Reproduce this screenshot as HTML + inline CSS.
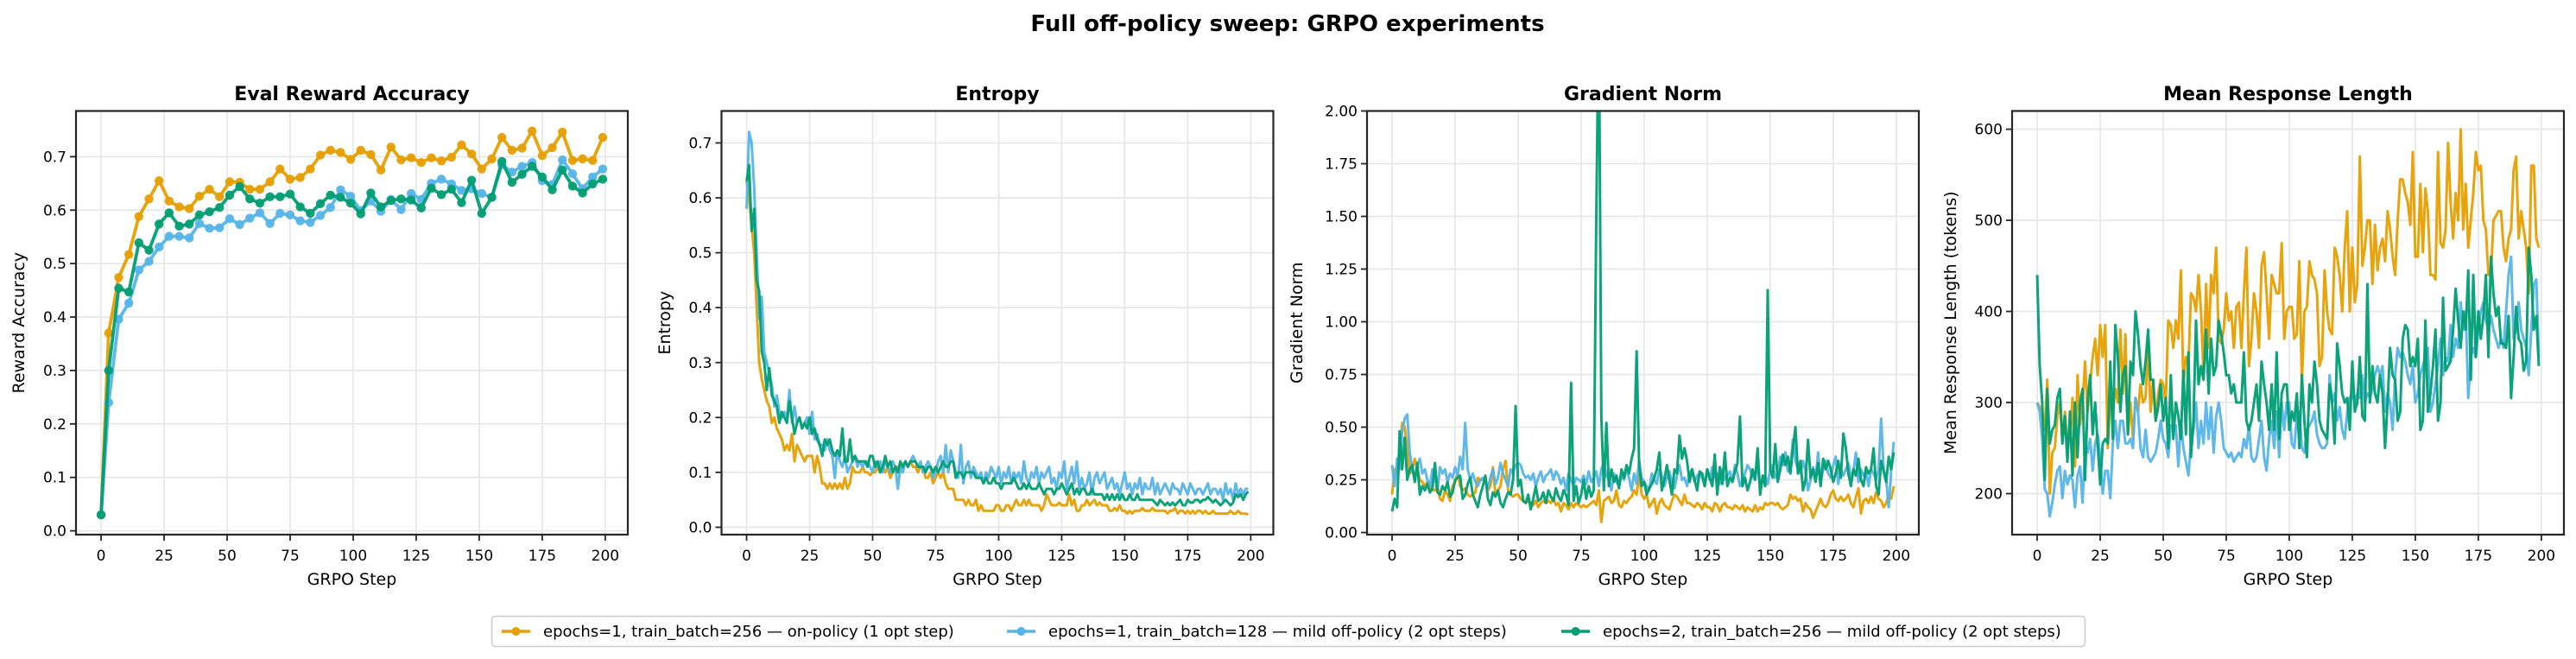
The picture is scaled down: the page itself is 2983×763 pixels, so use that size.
<!DOCTYPE html>
<html><head><meta charset="utf-8"><style>
html,body{margin:0;padding:0;background:#fff;}
svg{display:block;font-family:"DejaVu Sans","Liberation Sans",sans-serif;}
</style></head><body>
<svg id="fig" width="2983" height="763" viewBox="0 0 2983 763" xmlns="http://www.w3.org/2000/svg">
<rect width="2983" height="763" fill="#fff"/>
<text x="1491" y="36" text-anchor="middle" font-size="26" font-weight="bold">Full off-policy sweep: GRPO experiments</text>
<g id="panels"></g>
<g>
<rect x="569.5" y="713.5" width="1845" height="35" rx="4" fill="#fff" stroke="#cccccc" stroke-width="1.5"/>
<g><line x1="581" y1="731" x2="614" y2="731" stroke="#E69F00" stroke-width="3.5"/><circle cx="597.5" cy="731" r="5" fill="#E69F00"/><text x="629" y="737" font-size="18">epochs=1, train_batch=256 — on-policy (1 opt step)</text></g>
<g><line x1="1166" y1="731" x2="1199" y2="731" stroke="#56B4E9" stroke-width="3.5"/><circle cx="1182.5" cy="731" r="5" fill="#56B4E9"/><text x="1214" y="737" font-size="18">epochs=1, train_batch=128 — mild off-policy (2 opt steps)</text></g>
<g><line x1="1808" y1="731" x2="1841" y2="731" stroke="#009E73" stroke-width="3.5"/><circle cx="1824.5" cy="731" r="5" fill="#009E73"/><text x="1856" y="737" font-size="18">epochs=2, train_batch=256 — mild off-policy (2 opt steps)</text></g>
</g>
</svg>
<script>
// ---- data ----
const evalSteps = [0,3,7,11,15,19,23,27,31,35,39,43,47,51,55,59,63,67,71,75,79,83,87,91,95,99,103,107,111,115,119,123,127,131,135,139,143,147,151,155,159,163,167,171,175,179,183,187,191,195,199];
const evalOrange = [0.03,0.37,0.474,0.517,0.588,0.621,0.655,0.617,0.606,0.603,0.626,0.639,0.625,0.653,0.652,0.639,0.639,0.653,0.677,0.658,0.661,0.677,0.703,0.712,0.708,0.695,0.712,0.704,0.675,0.718,0.694,0.698,0.689,0.698,0.692,0.699,0.722,0.705,0.677,0.696,0.736,0.712,0.716,0.748,0.702,0.717,0.746,0.693,0.696,0.693,0.736];
const evalBlue = [0.03,0.24,0.396,0.426,0.488,0.504,0.531,0.551,0.551,0.548,0.575,0.566,0.567,0.584,0.573,0.585,0.595,0.575,0.594,0.591,0.580,0.577,0.590,0.605,0.638,0.626,0.599,0.617,0.598,0.620,0.601,0.631,0.620,0.650,0.658,0.649,0.637,0.640,0.631,0.624,0.685,0.671,0.682,0.689,0.655,0.648,0.694,0.668,0.640,0.662,0.677];
const evalGreen = [0.03,0.30,0.454,0.447,0.539,0.525,0.574,0.595,0.570,0.574,0.591,0.597,0.605,0.628,0.644,0.621,0.613,0.625,0.625,0.630,0.606,0.594,0.612,0.628,0.624,0.613,0.593,0.632,0.606,0.618,0.621,0.619,0.604,0.641,0.629,0.639,0.614,0.656,0.594,0.624,0.691,0.652,0.667,0.682,0.662,0.638,0.675,0.645,0.632,0.649,0.658];

const entOrange = [.63,.60,.55,.50,.40,.30,.27,.25,.23,.22,.19,.20,.18,.17,.16,.14,.15,.14,.17,.12,
.15,.14,.13,.12,.13,.13,.13,.10,.13,.11,.08,.08,.07,.08,.07,.08,.07,.08,.07,.09,
.07,.08,.11,.10,.10,.10,.11,.10,.10,.095,.10,.10,.11,.10,.11,.10,.11,.09,.10,.11,
.11,.10,.11,.12,.11,.12,.11,.11,.10,.11,.11,.09,.09,.10,.08,.09,.10,.09,.10,.08,
.07,.07,.07,.05,.05,.05,.05,.04,.05,.04,.04,.05,.03,.04,.03,.03,.03,.03,.03,.04,
.04,.03,.03,.04,.04,.03,.04,.05,.04,.04,.05,.04,.05,.04,.04,.04,.04,.03,.04,.06,
.05,.04,.04,.04,.045,.04,.04,.04,.06,.04,.05,.03,.03,.04,.04,.05,.04,.045,.05,.04,
.045,.04,.04,.04,.03,.03,.035,.03,.04,.03,.03,.025,.03,.025,.03,.03,.03,.035,.03,.03,
.03,.035,.03,.03,.03,.03,.03,.025,.03,.03,.035,.025,.03,.03,.025,.03,.025,.03,.025,.03,
.03,.025,.03,.025,.025,.03,.025,.025,.025,.025,.025,.025,.03,.025,.025,.03,.025,.025,.025,.023];
const entBlue = [.58,.72,.70,.62,.50,.38,.42,.32,.30,.28,.26,.22,.24,.21,.20,.21,.20,.25,.19,.22,
.19,.20,.18,.19,.20,.17,.21,.16,.17,.15,.15,.14,.16,.14,.13,.09,.14,.12,.11,.13,
.10,.11,.12,.13,.11,.12,.11,.12,.12,.11,.10,.12,.11,.12,.10,.12,.11,.10,.12,.11,
.07,.11,.10,.12,.11,.12,.13,.12,.11,.12,.10,.11,.12,.11,.09,.10,.12,.13,.10,.15,
.10,.14,.12,.10,.09,.15,.08,.11,.12,.09,.11,.10,.09,.10,.08,.10,.09,.11,.10,.09,
.11,.08,.10,.09,.11,.08,.10,.09,.10,.08,.12,.09,.08,.10,.09,.11,.08,.10,.09,.10,
.11,.08,.09,.07,.10,.09,.12,.07,.09,.11,.08,.12,.07,.09,.07,.08,.10,.06,.09,.10,
.08,.09,.10,.07,.08,.09,.07,.08,.06,.08,.10,.07,.08,.06,.08,.07,.09,.06,.08,.07,
.07,.09,.06,.08,.06,.07,.08,.07,.06,.08,.07,.07,.06,.08,.07,.06,.08,.07,.06,.07,
.07,.06,.07,.08,.06,.07,.07,.06,.07,.05,.08,.06,.07,.05,.08,.06,.07,.06,.07,.07];
const entGreen = [.63,.66,.54,.58,.45,.43,.32,.30,.25,.29,.24,.23,.22,.19,.21,.20,.19,.23,.20,.17,
.19,.20,.18,.19,.18,.20,.17,.18,.16,.15,.13,.16,.15,.16,.14,.13,.14,.13,.18,.12,
.12,.16,.12,.13,.12,.12,.12,.12,.11,.13,.13,.11,.12,.10,.11,.13,.11,.12,.10,.11,
.10,.12,.11,.12,.11,.12,.12,.12,.11,.11,.11,.10,.11,.11,.10,.11,.10,.11,.12,.11,
.11,.12,.12,.09,.10,.10,.09,.10,.10,.10,.10,.09,.09,.09,.08,.09,.08,.08,.09,.08,
.08,.07,.08,.08,.08,.08,.09,.08,.07,.07,.08,.07,.08,.07,.07,.07,.08,.07,.06,.07,
.07,.07,.06,.07,.07,.08,.07,.06,.07,.08,.06,.07,.06,.07,.07,.06,.06,.07,.06,.06,
.06,.06,.05,.06,.05,.06,.05,.06,.05,.06,.05,.05,.06,.05,.05,.06,.05,.05,.05,.05,
.05,.05,.045,.04,.05,.045,.04,.045,.04,.045,.04,.045,.05,.04,.04,.05,.045,.045,.05,.05,
.045,.05,.05,.055,.05,.045,.05,.045,.04,.045,.05,.045,.04,.045,.06,.055,.06,.05,.06,.065];

const gradOrange = [.18,.30,.28,.40,.52,.50,.40,.28,.30,.35,.30,.25,.24,.22,.24,.22,.20,.20,.22,.16,
.15,.20,.18,.15,.22,.24,.28,.22,.20,.21,.18,.17,.18,.19,.26,.25,.25,.26,.20,.22,
.31,.18,.20,.22,.30,.34,.20,.18,.17,.18,.18,.16,.15,.14,.15,.14,.13,.15,.12,.14,
.15,.14,.15,.14,.16,.13,.14,.10,.14,.13,.11,.14,.12,.14,.13,.12,.13,.12,.13,.14,
.15,.13,.20,.05,.15,.16,.17,.14,.15,.20,.13,.12,.15,.14,.16,.17,.20,.18,.28,.18,
.16,.18,.12,.14,.16,.09,.14,.16,.13,.12,.11,.15,.18,.17,.15,.13,.18,.14,.14,.13,
.12,.14,.13,.11,.14,.12,.12,.10,.14,.13,.10,.13,.14,.12,.12,.11,.13,.12,.11,.13,
.10,.12,.11,.10,.13,.10,.12,.11,.14,.13,.14,.14,.13,.14,.12,.11,.12,.13,.18,.16,
.17,.15,.16,.10,.14,.12,.11,.07,.10,.13,.16,.13,.12,.14,.18,.20,.16,.15,.17,.15,
.16,.18,.14,.12,.17,.21,.09,.15,.16,.14,.17,.14,.19,.16,.15,.12,.14,.18,.16,.22];
const gradBlue = [.32,.22,.35,.30,.48,.54,.56,.38,.30,.25,.32,.35,.28,.30,.25,.22,.30,.26,.20,.31,
.28,.30,.24,.28,.26,.31,.27,.36,.30,.52,.30,.25,.28,.24,.22,.25,.26,.24,.21,.26,
.30,.23,.26,.33,.28,.25,.22,.30,.28,.32,.33,.32,.28,.26,.27,.25,.28,.22,.26,.29,
.24,.27,.28,.30,.25,.29,.27,.23,.26,.20,.28,.25,.22,.26,.25,.24,.27,.23,.29,.24,
.26,.29,.22,.30,.33,.27,.25,.20,.28,.24,.22,.27,.25,.30,.26,.20,.28,.23,.34,.26,
.24,.22,.20,.28,.25,.23,.30,.27,.22,.26,.29,.24,.21,.27,.32,.25,.26,.22,.28,.30,
.24,.27,.28,.26,.22,.30,.25,.31,.26,.28,.23,.30,.25,.27,.29,.24,.32,.28,.22,.25,
.28,.32,.30,.26,.28,.30,.22,.25,.27,.23,.30,.32,.26,.28,.36,.32,.38,.29,.31,.44,
.34,.30,.28,.34,.29,.20,.25,.31,.26,.38,.24,.30,.34,.28,.26,.32,.36,.23,.30,.27,
.30,.33,.26,.29,.38,.24,.30,.27,.29,.22,.30,.28,.25,.30,.54,.30,.25,.12,.30,.43];
const gradGreen = [.10,.16,.12,.48,.30,.45,.25,.30,.32,.24,.33,.18,.22,.20,.23,.19,.21,.33,.19,.18,
.22,.20,.24,.17,.19,.25,.26,.27,.16,.18,.23,.26,.18,.15,.12,.18,.22,.27,.16,.13,
.19,.17,.20,.14,.12,.16,.19,.18,.25,.60,.22,.25,.15,.14,.18,.11,.16,.22,.15,.16,
.19,.14,.20,.17,.15,.21,.17,.15,.20,.18,.13,.71,.15,.22,.14,.18,.25,.16,.22,.17,
.20,1.50,2.50,.55,.20,.52,.22,.30,.24,.27,.21,.30,.26,.32,.28,.35,.40,.86,.32,.22,
.24,.18,.21,.23,.26,.30,.38,.20,.25,.32,.25,.18,.30,.28,.46,.35,.40,.34,.24,.30,
.25,.20,.29,.28,.22,.30,.26,.22,.37,.18,.31,.23,.38,.22,.26,.24,.29,.33,.55,.22,
.26,.20,.24,.30,.25,.40,.18,.27,.22,1.15,.30,.26,.42,.24,.30,.37,.32,.36,.28,.40,
.50,.28,.34,.20,.25,.44,.26,.30,.24,.33,.22,.35,.30,.34,.30,.24,.28,.34,.26,.47,
.40,.28,.22,.30,.27,.35,.25,.22,.31,.28,.30,.40,.22,.18,.34,.29,.24,.36,.30,.38];

const lenOrange = [300,295,290,270,325,200,245,250,285,300,260,290,250,265,305,230,330,275,300,345,
290,320,350,370,330,385,350,385,250,305,290,315,300,380,310,375,265,300,260,305,
290,320,300,305,365,290,325,280,310,325,320,300,390,385,360,390,370,445,320,350,
340,420,415,400,440,400,330,430,360,440,420,470,370,365,380,420,390,400,360,405,
410,360,420,470,340,370,420,400,360,450,465,420,370,440,430,420,420,475,370,400,
405,405,370,375,455,320,400,405,455,440,435,420,340,350,445,400,380,375,470,460,
440,400,470,510,400,470,410,430,570,450,470,500,500,430,495,445,470,480,455,510,
490,460,440,500,545,545,530,520,495,575,460,460,540,465,535,510,440,440,435,575,
475,470,490,585,520,480,530,500,600,490,540,470,500,530,575,555,560,500,490,440,
440,500,505,510,510,470,455,480,490,555,570,480,510,490,470,420,560,560,480,470];
const lenBlue = [300,290,260,205,200,175,190,210,225,230,195,225,210,220,215,185,220,230,190,250,
245,260,225,255,265,240,200,225,225,195,255,280,250,280,280,255,255,260,250,305,
290,250,240,270,240,235,240,245,260,280,260,255,240,275,270,275,230,280,250,235,
220,255,270,300,250,280,255,300,260,295,245,285,300,280,250,245,240,245,235,240,
245,240,260,250,275,240,235,240,260,280,240,225,260,280,250,290,240,300,270,300,
300,255,250,285,290,250,245,270,275,280,290,265,255,250,250,255,330,300,310,280,
295,270,260,290,305,310,300,310,305,330,300,310,305,315,330,340,330,340,290,310,
300,270,330,360,350,355,345,330,320,340,300,310,330,340,350,360,290,300,320,340,
370,330,350,345,385,350,370,360,410,380,400,305,350,360,350,380,400,410,390,380,
395,380,370,360,370,360,400,440,460,370,380,410,380,370,360,330,380,430,435,350];
const lenGreen = [440,340,300,215,315,255,270,275,305,315,255,285,235,290,220,300,240,300,315,215,
300,330,265,300,255,210,255,260,255,345,260,385,350,290,330,340,265,345,330,400,
375,340,320,345,380,325,325,280,295,320,280,305,250,330,260,300,285,260,335,265,
355,240,280,390,320,340,325,380,310,370,330,340,390,375,355,330,330,310,320,300,
300,300,355,280,270,280,300,320,280,345,320,300,270,320,270,355,260,310,320,320,
270,290,280,310,250,330,280,240,320,300,345,320,280,270,265,260,320,300,255,365,
340,310,300,305,270,345,290,300,350,285,280,430,300,340,310,300,330,310,250,300,
360,330,325,280,290,370,385,380,340,350,340,370,270,280,390,290,310,340,380,280,
300,415,335,340,345,380,425,390,360,400,380,445,325,440,350,400,370,395,440,350,
460,420,395,405,365,365,360,395,305,350,405,370,365,335,345,470,440,380,395,340];

const xTicks = [0,25,50,75,100,125,150,175,200];
const yTicksAcc = ["0.0","0.1","0.2","0.3","0.4","0.5","0.6","0.7"];
const yTicksEnt = ["0.0","0.1","0.2","0.3","0.4","0.5","0.6","0.7"];
const yTicksGrad = ["0.00","0.25","0.50","0.75","1.00","1.25","1.50","1.75","2.00"];
const yTicksLen = ["200","300","400","500","600"];

// ---- rendering ----
const NS = "http://www.w3.org/2000/svg";
const root = document.getElementById("panels");
const C = {o:"#E69F00", b:"#56B4E9", g:"#009E73"};
const TOP = 128.5, BOT = 619, W = 639;
function mk(tag, attrs, parent){ const e = document.createElementNS(NS, tag); for (const k in attrs) e.setAttribute(k, attrs[k]); parent.appendChild(e); return e; }

function panel(cfg){
  const g = mk("g", {}, root);
  
  
  const L = cfg.left, R = cfg.left + W;
  const xs = v => L + (v - (-9.95)) / (208.95 + 9.95) * W;
  const ys = v => BOT - (v - cfg.ymin) / (cfg.ymax - cfg.ymin) * (BOT - TOP);
  const clip = mk("clipPath", {id: "clip-" + cfg.name}, g);
  mk("rect", {x: L, y: TOP, width: W, height: BOT - TOP}, clip);
  const grid = mk("g", {stroke: "#e6e6e6", "stroke-width": 1.6}, g);
  
  
  xTicks.forEach(t => mk("line", {x1: xs(t), x2: xs(t), y1: TOP, y2: BOT}, grid));
  cfg.yt.forEach(s => { const v = parseFloat(s); mk("line", {x1: L, x2: R, y1: ys(v), y2: ys(v)}, grid); });
  const sg = mk("g", {"clip-path": "url(#clip-" + cfg.name + ")", fill: "none"}, g);
  cfg.series.forEach(s => {
    const pts = s.y.map((v, i) => xs(s.x ? s.x[i] : i).toFixed(2) + "," + ys(v).toFixed(2)).join(" ");
    const pl = mk("polyline", {points: pts, stroke: s.c, "stroke-width": cfg.lw, "stroke-linejoin": "round", opacity: 0.95}, sg);
    
    
    if (cfg.markers) s.y.forEach((v, i) => {
      const c = mk("circle", {cx: xs(s.x[i]), cy: ys(v), r: 5.2, fill: s.c, stroke: "none", opacity: 0.95}, sg);
      
      
    });
  });
  const sp = mk("rect", {x: L, y: TOP, width: W, height: BOT - TOP, fill: "none", stroke: "#262626", "stroke-width": 2.2}, g);
  
  
  const xa = mk("g", {}, g);
  
  
  xTicks.forEach(t => { mk("line", {x1: xs(t), x2: xs(t), y1: BOT, y2: BOT + 7, stroke: "#262626", "stroke-width": 1.8}, xa);
    const tx = mk("text", {x: xs(t), y: BOT + 30, "text-anchor": "middle", "font-size": 17}, xa); tx.textContent = t; });
  const xl = mk("text", {x: L + W/2, y: 677, "text-anchor": "middle", "font-size": 19}, g);
  xl.textContent = "GRPO Step";
  
  
  const ya = mk("g", {}, g);
  
  
  cfg.yt.forEach(s => { const v = parseFloat(s); mk("line", {x1: L - 7, x2: L, y1: ys(v), y2: ys(v), stroke: "#262626", "stroke-width": 1.8}, ya);
    const tx = mk("text", {x: L - 11, y: ys(v) + 6, "text-anchor": "end", "font-size": 17}, ya); tx.textContent = s; });
  const yl = mk("text", {x: cfg.ylx, y: (TOP + BOT)/2, "text-anchor": "middle", "font-size": 19, transform: "rotate(-90 " + cfg.ylx + " " + (TOP + BOT)/2 + ")"}, g);
  yl.textContent = cfg.ylabel;
  
  
  const tt = mk("text", {x: L + W/2, y: 116, "text-anchor": "middle", "font-size": 22, "font-weight": "bold"}, g);
  tt.textContent = cfg.title;
  
  
}

panel({name: "eval-reward-accuracy-panel", left: 88, ymin: -0.0071, ymax: 0.7855, yt: yTicksAcc, title: "Eval Reward Accuracy", ylabel: "Reward Accuracy", ylx: 28, lw: 3.8, markers: true,
  series: [{n: "on-policy-line", c: C.o, x: evalSteps, y: evalOrange}, {n: "off-policy-128-line", c: C.b, x: evalSteps, y: evalBlue}, {n: "off-policy-epochs2-line", c: C.g, x: evalSteps, y: evalGreen}]});
panel({name: "entropy-panel", left: 835.5, ymin: -0.0134, ymax: 0.7582, yt: yTicksEnt, title: "Entropy", ylabel: "Entropy", ylx: 776, lw: 3,
  series: [{n: "on-policy-line", c: C.o, y: entOrange}, {n: "off-policy-128-line", c: C.b, y: entBlue}, {n: "off-policy-epochs2-line", c: C.g, y: entGreen}]});
panel({name: "gradient-norm-panel", left: 1583, ymin: -0.01, ymax: 2.0, yt: yTicksGrad, title: "Gradient Norm", ylabel: "Gradient Norm", ylx: 1508, lw: 3,
  series: [{n: "on-policy-line", c: C.o, y: gradOrange}, {n: "off-policy-128-line", c: C.b, y: gradBlue}, {n: "off-policy-epochs2-line", c: C.g, y: gradGreen}]});
panel({name: "mean-response-length-panel", left: 2330, ymin: 155, ymax: 620, yt: yTicksLen, title: "Mean Response Length", ylabel: "Mean Response Length (tokens)", ylx: 2265, lw: 3,
  series: [{n: "on-policy-line", c: C.o, y: lenOrange}, {n: "off-policy-128-line", c: C.b, y: lenBlue}, {n: "off-policy-epochs2-line", c: C.g, y: lenGreen}]});
</script>
</body></html>
